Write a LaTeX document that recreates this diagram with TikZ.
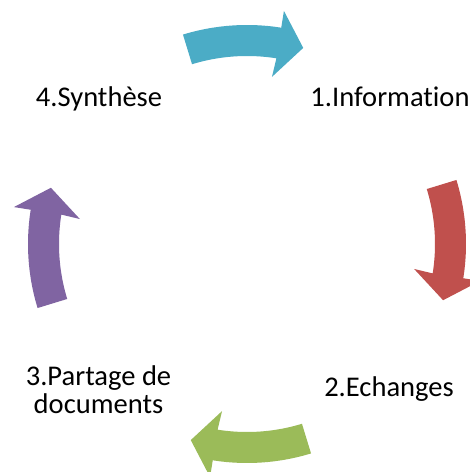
\documentclass[tikz,border=0pt]{standalone}
\usepackage{fontspec}
\setmainfont[Ligatures=NoCommon]{Carlito}
\definecolor{cycblue}{HTML}{4BACC6}
\definecolor{cycred}{HTML}{C0504D}
\definecolor{cycgreen}{HTML}{9BBB59}
\definecolor{cycpurple}{HTML}{8064A2}
% one curved arrow of the cycle, turned by #1 degrees about the centre
\newcommand\cyclearrow[2]{%
  \fill[#2, shift={(247,228)}, rotate=#1]
    plot[domain=107:81, samples=40] (\x:219)
    -- (81:236) -- (74:204) -- (81.5:169) -- (81:188)
    -- plot[domain=81:107, samples=40] (\x:188) -- cycle;}
\tikzset{steplabel/.style={inner sep=0pt, font=\fontsize{21.4}{20.5}\selectfont, align=center}}
\begin{document}
\begin{tikzpicture}[x=0.75pt, y=0.75pt]
  \clip (0,0) rectangle (470,472);
  \fill[white] (0,0) rectangle (470,472);
  \cyclearrow{0}{cycblue}
  \cyclearrow{-90}{cycred}
  \cyclearrow{-180}{cycgreen}
  \cyclearrow{90}{cycpurple}
  \node[steplabel, anchor=base] (info) at (390,365.3) {1.Information};
  \node[steplabel, anchor=base] (synth) at (99,365.3) {4.Synthèse};
  \node[steplabel, anchor=base] (ech) at (389,75.3) {2.Echanges};
  \node[steplabel, anchor=base] (part) at (98.5,58.7) {3.Partage de\\documents};
\end{tikzpicture}
\end{document}
